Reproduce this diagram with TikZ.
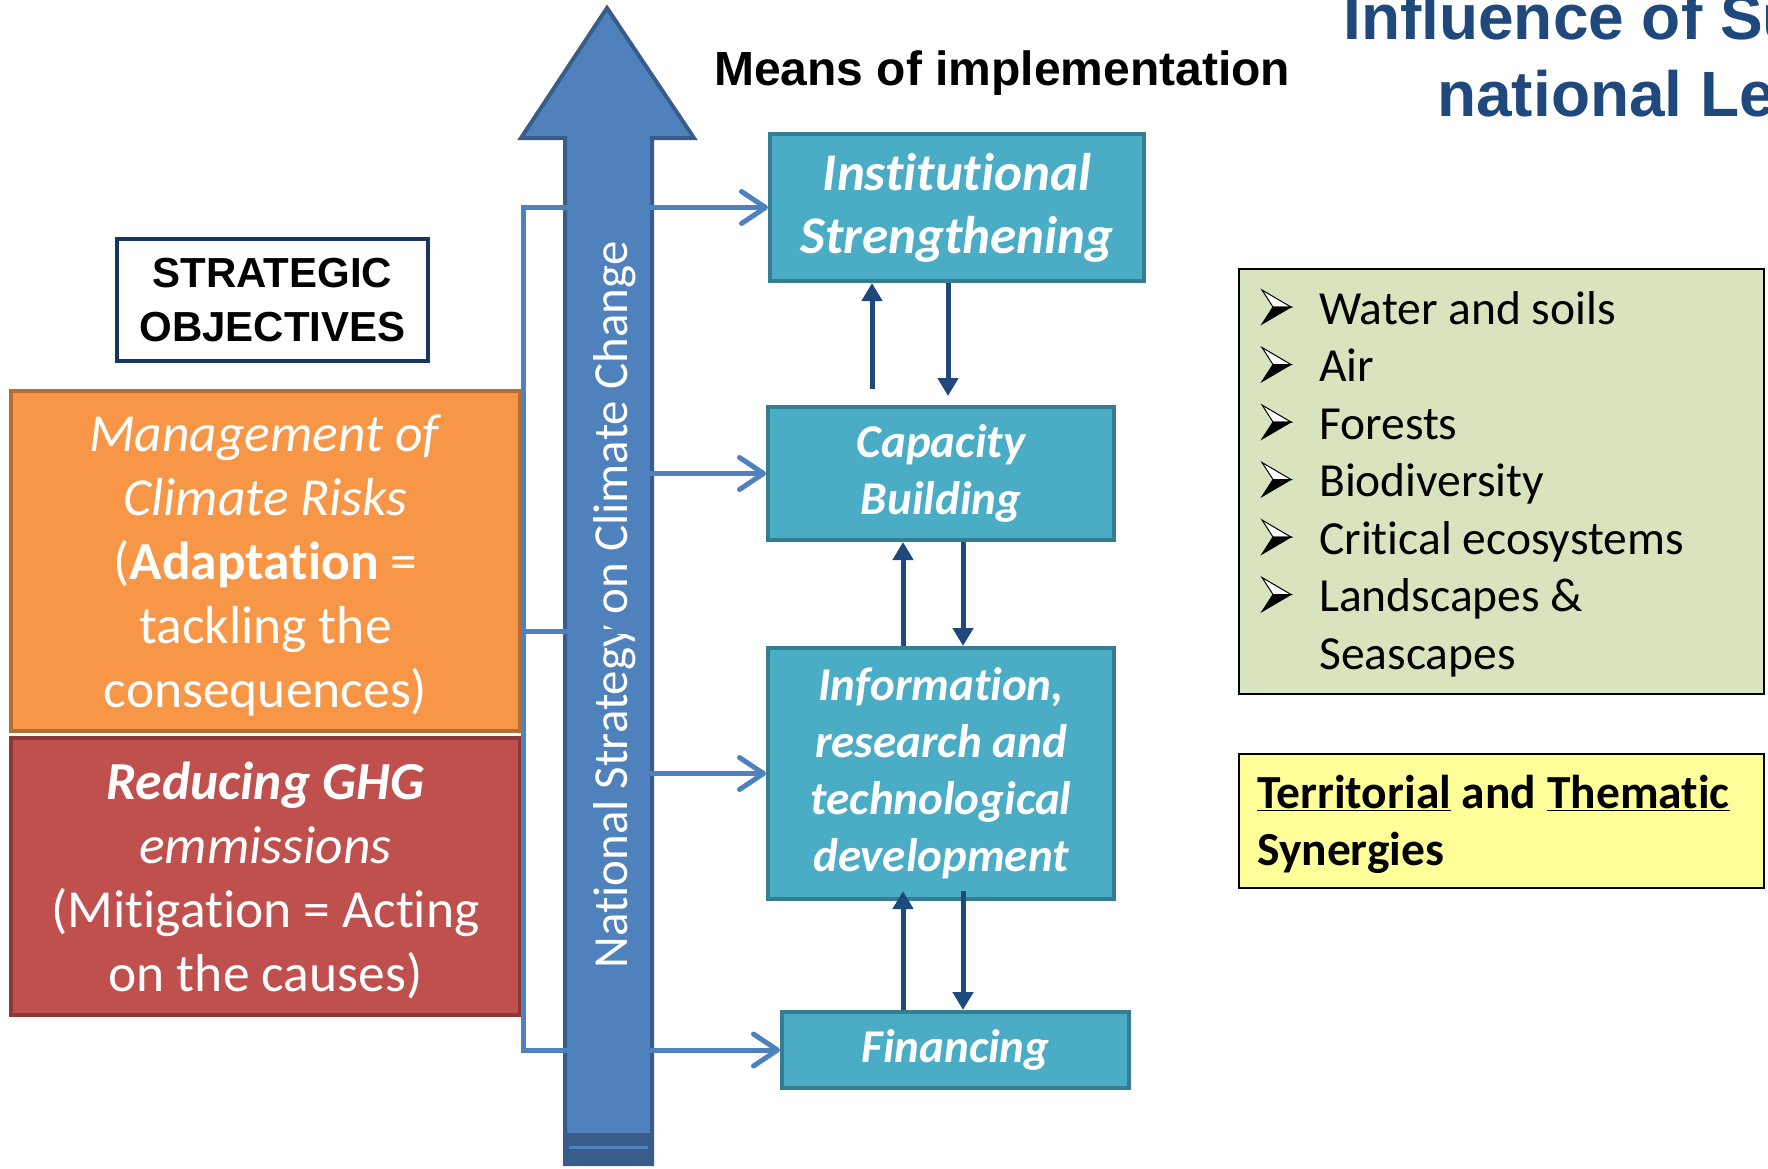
\documentclass[tikz,border=0pt]{standalone}
\usepackage{fontspec}
\setmainfont{Carlito}[RawFeature={-liga;-clig;-calt;-dlig}]
\newfontfamily\arialfont{Liberation Sans}
\usepackage{tikz}
\usetikzlibrary{arrows.meta,calc}
\definecolor{objedge}{HTML}{17375E}
\definecolor{titleblue}{HTML}{1F497D}
\definecolor{shaftblue}{HTML}{4F81BD}
\definecolor{shaftedge}{HTML}{385D8A}
\definecolor{tealfill}{HTML}{4BACC6}
\definecolor{tealedge}{HTML}{357D91}
\definecolor{orangefill}{HTML}{F79646}
\definecolor{orangeedge}{HTML}{B66D31}
\definecolor{redfill}{HTML}{C0504D}
\definecolor{rededge}{HTML}{8C3836}
\definecolor{greenfill}{HTML}{D7E4BD}
\definecolor{yellowfill}{HTML}{FFFF99}
\tikzset{bull/.pic={
    \filldraw[fill=white,draw=black,line width=1] (0,-34) -- (29,-17) -- (11,-17) -- cycle;
    \filldraw[black,line width=1] (11,-17) -- (29,-17) -- (0,0) -- cycle;
}}

\begin{document}
\begin{tikzpicture}[x=1pt,y=-1pt]
            \tikzstyle{every node}=[inner sep=0pt]
            \tikzstyle{goal}=[line width=4,minimum width=509,text=white,align=center,font=\fontsize{53.5}{64}\selectfont]
            \tikzstyle{means}=[fill=tealfill,draw=tealedge,line width=4,text=white,align=center,font=\fontsize{47}{57}\selectfont\bfseries\itshape]
            \tikzstyle{feed}=[draw=shaftblue,line width=5]
            \tikzstyle{link}=[draw=titleblue,line width=5,-{Triangle[length=18pt,width=20pt]}]
            \tikzstyle{item}=[anchor=base west,font=\fontsize{47.5}{57}\selectfont]
            \tikzset{>={Straight Barb[length=24pt,width=32pt,round]}}
            \useasboundingbox (0,0) rectangle (1768,1168);

            \filldraw[fill=shaftblue,draw=shaftedge,line width=4] (565,1164) -- (565,138) -- (521,138) -- (607,8) -- (694,138) -- (652,138) -- (652,1164) -- cycle;
            \fill[shaftedge] (563,1133) rectangle (654,1166);
            \draw[shaftblue,line width=3] (569,1147) -- (648,1147);
            \node[rotate=90,text=white,font=\fontsize{49}{59}\selectfont] (nscc) at (615,605) {National Strategy on Climate Change};

            \node[anchor=base west,text=titleblue,font=\arialfont\bfseries\fontsize{64}{76}\selectfont] (title1) at (1343,39) {Influence of Su};
            \node[anchor=base west,text=titleblue,font=\arialfont\bfseries\fontsize{64}{76}\selectfont] (title2) at (1437,116) {national Le};
            \node[anchor=base west,font=\arialfont\bfseries\fontsize{48}{58}\selectfont] (moi) at (714,85) {Means of implementation};

            \node[draw=objedge,fill=white,line width=4,minimum width=311,minimum height=122,align=center,font=\arialfont\bfseries\fontsize{42}{54}\selectfont] (obj) at (272.5,300) {STRATEGIC\\OBJECTIVES};
            \node[goal,fill=orangefill,draw=orangeedge,minimum height=340,text depth=-6pt] (adapt) at (265.5,561) {\textit{Management of}\\\textit{Climate Risks}\\(\textbf{Adaptation} =\\tackling the\\consequences)};
            \node[goal,fill=redfill,draw=rededge,minimum height=277,text depth=-4pt] (mitig) at (265.5,876.5) {\textbf{\textit{Reducing GHG}}\\\textit{emmissions}\\(Mitigation = Acting\\on the causes)};

            \node[means,minimum width=374,minimum height=147,font=\fontsize{53}{63}\selectfont\bfseries\itshape] (inst) at (957,207.5) {Institutional\\Strengthening};
            \node[means,minimum width=346,minimum height=133] (cap) at (941,473.5) {Capacity\\Building};
            \node[means,minimum width=346,minimum height=251] (info) at (941,773.5) {Information,\\research and\\technological\\development};
            \node[means,minimum width=347,minimum height=76] (fin) at (955.5,1050) {Financing};

            \node[draw=black,fill=greenfill,line width=2,minimum width=525,minimum height=425] (env) at (1501.5,481.5) {};
            \foreach \txt [count=\i] in {Water and soils,Air,Forests,Biodiversity,Critical ecosystems,Landscapes \&}{
                \pic at (1262,266.5+57.5*\i) {bull};
                \node[item] (item\i) at (1319,266.5+57.5*\i) {\txt};
            }
            \node[item] (item7) at (1319,669) {Seascapes};
            \node[draw=black,fill=yellowfill,line width=2,minimum width=525,minimum height=134] (syn) at (1501.5,821) {};
            \node[anchor=base west,align=left,font=\fontsize{47.5}{57}\selectfont\bfseries] (syntxt) at (1257,808) {\underline{Territorial} and \underline{Thematic}};
            \node[anchor=base west,font=\fontsize{47.5}{57}\selectfont\bfseries] (syntxt2) at (1257,865) {Synergies};

            \coordinate (jl) at (523,631);
            \coordinate (js) at (643,631);
            \draw[feed,<->] (inst.west) -| (jl) |- (fin.west);
            \draw[feed] (jl) -- (js);
            \draw[feed,->] (js) |- (cap.west);
            \draw[feed,->] (js) |- (info.west);

            \draw[link] ([xshift=-69pt,yshift=16pt]cap.north) -- ([xshift=-85pt]inst.south);
            \draw[link] ([xshift=-9pt]inst.south) -- ([xshift=7pt,yshift=9pt]cap.north);
            \draw[link] ([xshift=-38pt]info.north) -- ([xshift=-38pt]cap.south);
            \draw[link] ([xshift=22pt]cap.south) -- ([xshift=22pt]info.north);
            \draw[link] ([xshift=-52.5pt]fin.north) -- ([xshift=-38pt,yshift=10pt]info.south);
            \draw[link] ([xshift=22pt,yshift=10pt]info.south) -- ([xshift=7.5pt]fin.north);
\end{tikzpicture}
\end{document}
